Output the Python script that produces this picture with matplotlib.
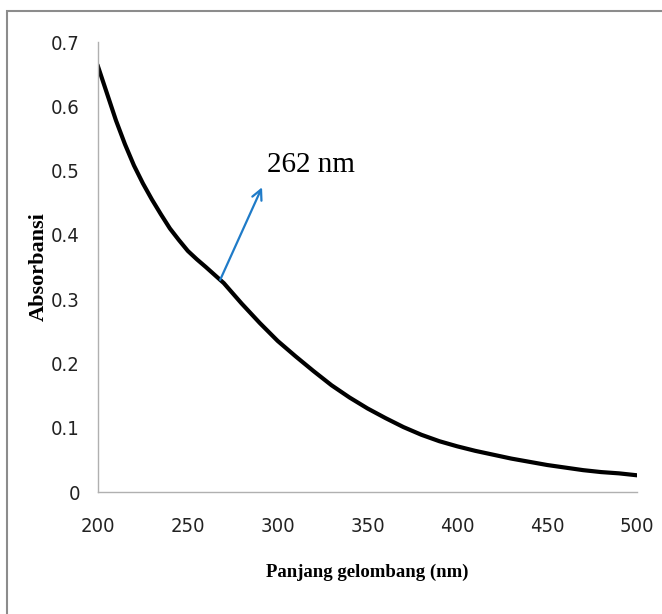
import matplotlib.pyplot as plt
from matplotlib.patches import Rectangle

# data
wavelength = [200, 205, 210, 215, 220, 225, 230, 235, 240, 245, 250, 255, 260,
              270, 280, 290, 300, 310, 320, 330, 340, 350, 360, 370, 380, 390,
              400, 410, 420, 430, 440, 450, 460, 470, 480, 490, 500]
absorbance = [0.662, 0.620, 0.578, 0.541, 0.508, 0.480, 0.455, 0.432, 0.410,
              0.392, 0.375, 0.362, 0.350, 0.325, 0.293, 0.263, 0.235, 0.211,
              0.188, 0.166, 0.147, 0.130, 0.115, 0.101, 0.089, 0.079, 0.071,
              0.064, 0.058, 0.052, 0.047, 0.042, 0.038, 0.034, 0.031, 0.029, 0.026]
x_ticks = [200, 250, 300, 350, 400, 450, 500]
y_ticks = [0, 0.1, 0.2, 0.3, 0.4, 0.5, 0.6, 0.7]
y_tick_labels = ['0', '0.1', '0.2', '0.3', '0.4', '0.5', '0.6', '0.7']

serif = ['Liberation Serif', 'DejaVu Serif']

fig = plt.figure(figsize=(6.62, 6.14), dpi=100)
fig.patches.append(Rectangle((7/662, -0.1), 1.2, 1 - 11/614 + 0.1,
                             transform=fig.transFigure, fill=False,
                             edgecolor='#8c8c8c', linewidth=1.5))

ax = fig.add_axes([98/662, 1 - 492/614, (637 - 98)/662, (492 - 42)/614])
ax.plot(wavelength, absorbance, color='black', linewidth=3,
        solid_joinstyle='round')

ax.set_xlim(200, 500)
ax.set_ylim(0, 0.7)
ax.set_xticks(x_ticks)
ax.set_yticks(y_ticks)
ax.set_yticklabels(y_tick_labels)
ax.tick_params(length=0, labelsize=14.5, colors='#222222')
ax.tick_params(axis='x', pad=18)
ax.tick_params(axis='y', pad=13)
for lab in ax.get_xticklabels() + ax.get_yticklabels():
    lab.set_family('DejaVu Sans')
    lab.set_stretch('condensed')

for s in ['top', 'right']:
    ax.spines[s].set_visible(False)
for s in ['left', 'bottom']:
    ax.spines[s].set_color('#b0b0b0')
    ax.spines[s].set_linewidth(1)

ax.set_xlabel('Panjang gelombang (nm)', family=serif, fontweight='bold',
              fontsize=13.5)
ax.set_ylabel('Absorbansi', family=serif, fontweight='bold', fontsize=16)
ax.xaxis.set_label_coords(0.5, (492 - 572) / 450, transform=ax.transAxes)
ax.yaxis.set_label_coords((39 - 98) / 539, 0.5, transform=ax.transAxes)
ax.xaxis.label.set_va('center')
ax.yaxis.label.set_va('center')

# arrow pointing from the curve up to the label
ax.annotate('', xy=(291.3, 0.474), xytext=(268, 0.33),
            arrowprops=dict(arrowstyle='->', color='#1f7bc8', lw=1.6,
                            mutation_scale=18, shrinkA=0, shrinkB=0))
ax.text(294, 0.509, '262 nm', family=serif, fontsize=21, va='center', ha='left')

fig.savefig('out.png', dpi=100)
